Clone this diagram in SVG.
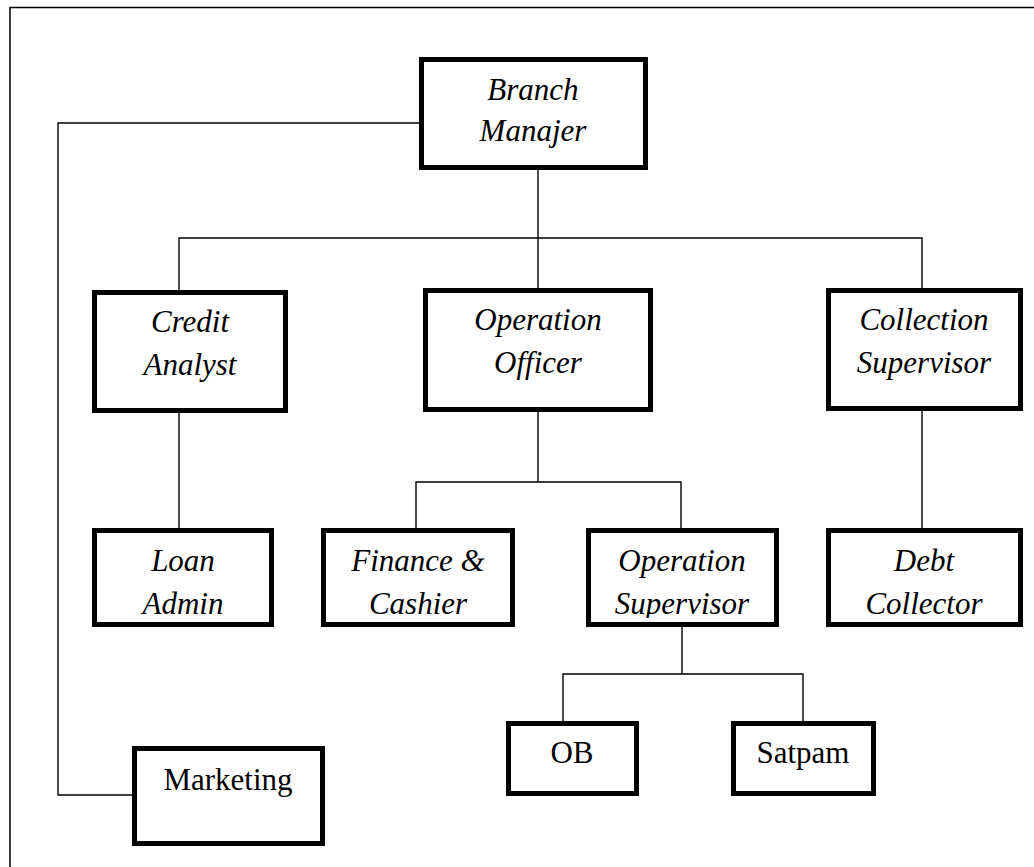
<svg xmlns="http://www.w3.org/2000/svg" width="1034" height="867" viewBox="0 0 1034 867">
<style>
.box{fill:#fff;stroke:#000;stroke-width:5}
.ln{fill:none;stroke:#000;stroke-width:1.4}
.frame{fill:none;stroke:#000;stroke-width:1.5}
.t{font-family:"Liberation Serif","Times New Roman",serif;font-size:31px;font-style:italic;text-anchor:middle;fill:#000}
.r{font-family:"Liberation Serif","Times New Roman",serif;font-size:31px;text-anchor:middle;fill:#000}
</style>
<defs>
<clipPath id="c1"><rect x="96" y="533" width="174" height="85"/></clipPath>
<clipPath id="c2"><rect x="325" y="533" width="186" height="85"/></clipPath>
<clipPath id="c3"><rect x="590" y="533" width="185" height="85"/></clipPath>
<clipPath id="c4"><rect x="830" y="533" width="189" height="85"/></clipPath>
</defs>
<rect x="0" y="0" width="1034" height="867" fill="#fff"/>
<polyline class="frame" points="10,867 10,7.5 1034,7.5"/>
<g id="connectors">
<polyline class="ln" points="419,123 58,123 58,795 132,795"/>
<line class="ln" x1="538" y1="170" x2="538" y2="290"/>
<polyline class="ln" points="179,292 179,238 922,238 922,290"/>
<line class="ln" x1="179" y1="413" x2="179" y2="531"/>
<line class="ln" x1="538" y1="412" x2="538" y2="482"/>
<polyline class="ln" points="416,531 416,482 681,482 681,531"/>
<line class="ln" x1="922" y1="410" x2="922" y2="531"/>
<line class="ln" x1="682" y1="626" x2="682" y2="674"/>
<polyline class="ln" points="563,723 563,674 803,674 803,723"/>
</g>
<g id="branch-manajer"><rect class="box" x="421.5" y="59.5" width="224" height="108"/><text class="t" x="533" y="100">Branch</text><text class="t" x="533" y="141">Manajer</text></g>
<g id="credit-analyst"><rect class="box" x="94.5" y="292.5" width="191" height="118"/><text class="t" x="190" y="332">Credit</text><text class="t" x="190" y="375">Analyst</text></g>
<g id="operation-officer"><rect class="box" x="425.5" y="290.5" width="225" height="119"/><text class="t" x="538" y="330">Operation</text><text class="t" x="538" y="373">Officer</text></g>
<g id="collection-supervisor"><rect class="box" x="828.5" y="290.5" width="192" height="118"/><text class="t" x="924" y="330">Collection</text><text class="t" x="924" y="373">Supervisor</text></g>
<g id="loan-admin"><rect class="box" x="94.5" y="530.5" width="177" height="94"/><g clip-path="url(#c1)"><text class="t" x="183" y="571">Loan</text><text class="t" x="183" y="614">Admin</text></g></g>
<g id="finance-cashier"><rect class="box" x="323.5" y="530.5" width="189" height="94"/><g clip-path="url(#c2)"><text class="t" x="418" y="571">Finance &amp;</text><text class="t" x="418" y="614">Cashier</text></g></g>
<g id="operation-supervisor"><rect class="box" x="588.5" y="530.5" width="188" height="94"/><g clip-path="url(#c3)"><text class="t" x="682" y="571">Operation</text><text class="t" x="682" y="614">Supervisor</text></g></g>
<g id="debt-collector"><rect class="box" x="828.5" y="530.5" width="192" height="94"/><g clip-path="url(#c4)"><text class="t" x="924" y="571">Debt</text><text class="t" x="924" y="614">Collector</text></g></g>
<g id="ob"><rect class="box" x="508.5" y="723.5" width="128" height="70"/><text class="r" x="572" y="763">OB</text></g>
<g id="satpam"><rect class="box" x="733.5" y="723.5" width="140" height="70"/><text class="r" x="803" y="763">Satpam</text></g>
<g id="marketing"><rect class="box" x="134.5" y="748.5" width="188" height="95"/><text class="r" x="228" y="790">Marketing</text></g>
</svg>
